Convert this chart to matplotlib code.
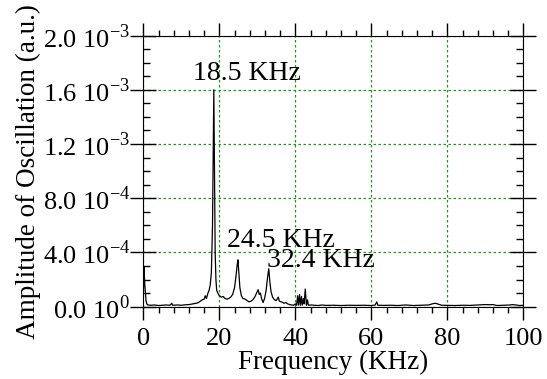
import numpy as np
import matplotlib
matplotlib.use('Agg')
import matplotlib.pyplot as plt
from matplotlib.ticker import MultipleLocator

plt.rcParams['font.family'] = ['Liberation Serif', 'DejaVu Serif']
plt.rcParams['mathtext.fontset'] = 'custom'
plt.rcParams['mathtext.rm'] = 'Liberation Serif'

# spectrum (frequency in KHz, amplitude in 1e-4 a.u.)
freq = [0.0, 0.2, 0.35, 0.5, 0.7, 0.9, 1.2, 2, 3, 4, 5, 6, 7, 7.5, 7.7, 9, 10, 11, 12, 13,
        14, 14.5, 15, 15.5, 16.0, 16.3, 16.6, 17.0, 17.3, 17.6, 17.9, 18.2, 18.4, 18.55, 18.7,
        18.9, 19.1, 19.3, 19.6, 20.0, 20.5, 21.0, 21.5, 22.0, 22.5, 23.0, 23.5, 24.0, 24.4,
        24.7, 24.9, 25.1, 25.4, 25.8, 26.2, 26.8, 27.3, 27.8, 28.3, 28.8, 29.3, 29.8, 30.2,
        30.5, 30.8, 31.1, 31.5, 31.9, 32.3, 32.7, 33.0, 33.3, 33.6, 34.0, 34.5, 35.0, 35.5,
        35.8, 36.3, 37, 37.5, 38, 38.5, 39, 39.5, 40.0, 40.3, 40.6, 40.8, 41.1, 41.3, 41.6,
        41.8, 42.1, 42.3, 42.6, 42.9, 43.2, 43.4, 44, 45, 46, 47, 48, 50, 52, 54, 56, 58, 60,
        61, 61.4, 61.7, 63, 65, 67, 69, 71, 73, 75, 76, 76.8, 77.6, 78.5, 80, 82, 84, 86, 88,
        90, 91, 92, 93, 95, 96.5, 97, 98, 99, 100]
amp = [0.8, 2.9, 1.8, 1.2, 0.5, 0.2, 0.12, 0.1, 0.12, 0.08, 0.1, 0.12, 0.1, 0.25, 0.1, 0.12,
       0.1, 0.13, 0.15, 0.2, 0.25, 0.3, 0.4, 0.5, 0.55, 0.8, 0.6, 1.0, 1.2, 1.6, 2.5, 6.0,
       12.0, 16.0, 11.0, 4.0, 2.0, 1.2, 1.0, 0.8, 0.7, 0.75, 0.6, 0.55, 0.6, 0.7, 0.9, 1.4,
       2.3, 3.1, 3.45, 2.6, 1.4, 0.8, 0.6, 0.55, 0.45, 0.35, 0.4, 0.5, 0.7, 1.0, 1.25, 0.9,
       1.0, 0.6, 0.3, 0.6, 1.2, 2.2, 2.8, 1.8, 1.1, 0.7, 0.5, 0.45, 0.7, 0.4, 0.35, 0.25,
       0.3, 0.2, 0.15, 0.12, 0.1, 0.2, 0.1, 0.8, 0.1, 0.9, 0.1, 0.75, 0.1, 0.6, 0.2, 1.3,
       0.1, 0.5, 0.1, 0.12, 0.1, 0.08, 0.12, 0.09, 0.1, 0.08, 0.1, 0.09, 0.1, 0.08, 0.12,
       0.35, 0.1, 0.09, 0.1, 0.08, 0.12, 0.08, 0.1, 0.12, 0.2, 0.25, 0.18, 0.1, 0.09, 0.08,
       0.1, 0.09, 0.12, 0.15, 0.14, 0.15, 0.08, 0.1, 0.12, 0.15, 0.12, 0.08, 0.1]

yticks = [0, 4e-4, 8e-4, 1.2e-3, 1.6e-3, 2.0e-3]
ytick_labels = [r'0.0 10$^{\mathregular{0}}$', r'4.0 10$^{\mathregular{-4}}$',
                r'8.0 10$^{\mathregular{-4}}$', r'1.2 10$^{\mathregular{-3}}$',
                r'1.6 10$^{\mathregular{-3}}$', r'2.0 10$^{\mathregular{-3}}$']

# peak labels: text, x, y
peak_labels = ['18.5 KHz', '24.5 KHz', '32.4 KHz']
peak_x = [13.1, 21.9, 32.6]
peak_y = [1.67e-3, 4.43e-4, 2.95e-4]

fig = plt.figure(figsize=(5.47, 3.79), dpi=100)
ax = fig.add_axes([0.262, 0.191, 0.695, 0.715])

ax.plot(freq, np.array(amp) * 1e-4, color='black', lw=0.9)

for t, xx, yy in zip(peak_labels, peak_x, peak_y):
  ax.text(xx, yy, t, fontsize=20, ha='left', va='baseline')

ax.set_xlim(0, 100)
ax.set_ylim(0, 2e-3)
ax.set_xticks([0, 20, 40, 60, 80, 100])
ax.xaxis.set_minor_locator(MultipleLocator(4))
ax.set_yticks(yticks)
ax.set_yticklabels(ytick_labels)
ax.yaxis.set_minor_locator(MultipleLocator(1e-4))

ax.tick_params(axis='x', which='major', direction='out', length=9.5, width=1,
               top=True, labelsize=19, pad=6)
ax.tick_params(axis='x', which='minor', direction='out', length=4.5, width=1, top=True)
ax.tick_params(axis='y', which='major', direction='inout', length=19, width=1,
               right=True, labelsize=19, pad=0)
ax.tick_params(axis='y', which='minor', direction='in', length=5, width=1, right=True)

ax.grid(True, which='major', color='#1c961c', linestyle=(0, (2, 2)), linewidth=0.9)

ax.set_xlabel('Frequency (KHz)', fontsize=19.5, labelpad=0)
ax.set_ylabel('Amplitude of Oscillation (a.u.)', fontsize=19.5, labelpad=1)

fig.savefig('out.png', dpi=100)
